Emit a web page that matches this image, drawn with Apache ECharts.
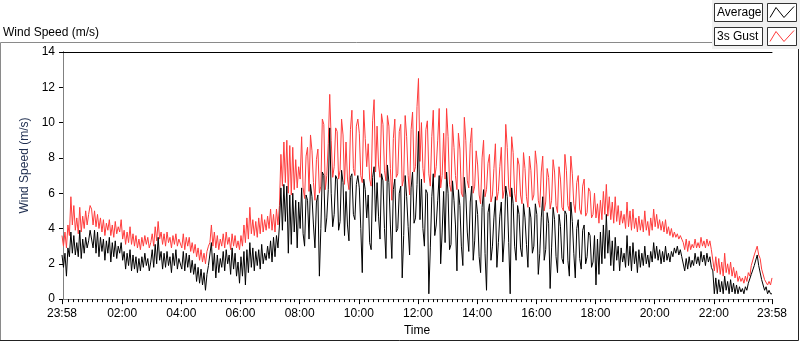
<!DOCTYPE html>
<html>
<head>
<meta charset="utf-8">
<script src="https://cdn.jsdelivr.net/npm/echarts@6/dist/echarts.min.js"></script>
<style>
  html, body { margin: 0; padding: 0; background: #fff; }
  #chart { width: 800px; height: 342px; }
</style>
</head>
<body>
<div id="chart"></div>
<script>
// wind speed log, one sample every 3 minutes starting 23:58 (one row = one hour)
const startMinute = -2
const stepMinutes = 3

const gust = [
  3.6, 3.0, 3.8, 2.9, 4.2, 3.6, 5.8, 4.2, 5.3, 3.9, 4.6, 3.7, 5.2, 3.8, 4.7, 4.0, 5.0, 4.2, 4.8, 5.3,
  5.1, 4.2, 5.0, 4.1, 4.8, 4.0, 4.6, 3.8, 4.5, 3.6, 4.3, 3.9, 4.5, 3.6, 4.2, 3.5, 4.4, 3.7, 4.1, 3.8,
  4.5, 3.4, 3.9, 3.1, 3.8, 3.2, 4.1, 3.1, 3.7, 3.0, 3.6, 2.9, 3.4, 2.8, 3.5, 3.0, 3.6, 3.1, 3.5, 2.9,
  3.2, 3.7, 3.0, 4.1, 3.3, 4.4, 3.4, 3.8, 3.1, 3.7, 3.0, 3.8, 3.2, 3.5, 2.9, 3.6, 3.1, 3.7, 3.0, 3.4,
  3.4, 2.9, 3.7, 2.8, 3.5, 3.0, 3.5, 2.7, 3.2, 2.6, 3.1, 2.4, 2.9, 2.2, 2.8, 2.1, 2.6, 2.0, 2.7, 3.0,
  3.2, 4.2, 3.0, 3.8, 2.9, 3.6, 2.8, 3.4, 3.0, 3.7, 2.9, 3.8, 3.1, 3.5, 2.8, 3.7, 3.0, 3.6, 2.9, 3.3,
  2.8, 3.6, 3.0, 4.2, 3.2, 4.6, 3.4, 5.2, 3.7, 4.5, 3.6, 4.4, 3.5, 4.6, 3.7, 4.8, 3.8, 4.5, 3.9, 4.7,
  4.0, 5.1, 3.9, 4.8, 3.8, 5.1, 4.2, 5.3, 8.2, 6.4, 8.9, 6.6, 9.0, 6.0, 8.7, 5.9, 8.6, 6.2, 7.9, 6.3,
  7.5, 6.8, 9.2, 6.3, 5.7, 8.1, 8.6, 6.1, 9.3, 8.4, 6.6, 5.6, 7.9, 8.5, 6.0, 6.4, 10.2, 9.9, 6.2, 7.0,
  8.8, 11.6, 9.0, 6.9, 7.5, 9.7, 9.5, 6.8, 7.3, 10.2, 9.3, 6.5, 8.9, 6.8, 6.2, 9.6, 10.7, 7.4, 7.0, 9.8,
  10.2, 9.4, 7.0, 6.6, 10.7, 9.1, 7.5, 8.8, 6.8, 6.4, 10.1, 11.3, 7.2, 9.8, 7.6, 6.9, 10.5, 9.9, 7.3, 6.7,
  10.4, 9.8, 7.4, 5.6, 9.1, 10.2, 6.9, 7.1, 9.5, 9.9, 6.4, 6.8, 10.4, 9.2, 7.0, 5.9, 9.6, 10.6, 7.2, 7.5,
  10.9, 12.5, 7.8, 10.0, 7.4, 6.6, 9.6, 10.1, 7.1, 6.4, 9.2, 10.7, 6.9, 7.5, 9.0, 10.8, 6.3, 7.0, 9.4, 6.8,
  10.8, 9.2, 6.5, 6.1, 9.9, 8.6, 7.0, 6.2, 9.4, 8.5, 6.0, 5.8, 10.3, 9.0, 6.7, 6.3, 8.8, 9.7, 6.0, 6.4,
  8.4, 7.6, 5.9, 5.4, 8.0, 9.0, 5.8, 6.2, 7.7, 8.2, 5.5, 5.9, 7.4, 8.8, 5.6, 6.1, 7.5, 8.6, 5.7, 6.2,
  9.9, 8.6, 6.3, 5.8, 9.2, 8.3, 6.0, 5.5, 8.0, 7.6, 5.9, 5.4, 8.3, 7.4, 5.8, 5.2, 8.1, 7.3, 5.6, 5.9,
  8.4, 7.6, 5.6, 5.2, 7.2, 8.1, 5.0, 5.5, 7.4, 6.9, 5.1, 5.6, 7.9, 7.2, 5.3, 4.9, 7.5, 6.8, 5.2, 5.0,
  8.2, 7.3, 5.3, 5.0, 8.1, 7.1, 5.4, 4.9, 6.6, 7.0, 5.1, 4.8, 6.4, 6.8, 4.7, 4.9, 6.3, 6.1, 4.6, 4.8,
  6.0, 4.6, 5.4, 4.3, 5.6, 4.5, 6.1, 4.8, 6.5, 4.7, 5.8, 4.5, 5.5, 4.3, 5.8, 4.4, 5.3, 4.2, 5.0, 4.3,
  4.8, 4.0, 5.5, 4.1, 5.0, 3.9, 5.1, 4.0, 4.6, 3.8, 4.7, 3.9, 4.5, 3.8, 5.0, 3.9, 4.4, 3.6, 4.6, 3.9,
  5.1, 4.1, 4.8, 4.0, 4.5, 3.9, 4.4, 3.8, 4.5, 3.7, 4.1, 3.6, 4.0, 3.5, 3.8, 3.5, 3.7, 3.4, 3.6, 3.4,
  3.2, 2.8, 3.4, 2.7, 3.3, 2.8, 3.1, 2.9, 3.4, 2.9, 3.2, 2.9, 3.5, 3.0, 3.3, 2.9, 3.4, 3.0, 3.3, 2.8,
  2.8, 1.6, 2.4, 1.5, 2.3, 1.4, 2.1, 1.3, 2.6, 1.5, 2.0, 1.4, 2.1, 1.3, 1.8, 1.2, 1.6, 1.0, 1.3, 1.0,
  1.2, 0.9, 1.3, 1.0, 1.5, 1.3, 1.9, 1.8, 2.5, 2.4, 3.0, 2.5, 2.3, 1.7, 1.6, 1.1, 1.2, 0.8, 1.0, 0.8, 1.2
]

const average = [
  2.5, 1.8, 2.6, 1.3, 2.9, 2.4, 3.8, 2.6, 3.6, 2.5, 3.2, 2.4, 3.9, 2.3, 3.4, 2.6, 3.5, 2.9, 3.3, 3.9,
  4.0, 2.9, 3.9, 2.6, 3.8, 2.4, 3.5, 2.7, 3.4, 2.2, 3.3, 2.6, 3.5, 2.1, 3.2, 2.4, 3.3, 2.3, 3.0, 2.6,
  3.2, 2.2, 2.7, 1.7, 2.6, 1.9, 2.8, 1.6, 2.5, 1.7, 2.4, 1.5, 2.3, 1.6, 2.4, 1.8, 2.6, 1.9, 2.3, 1.6,
  2.1, 2.8, 1.8, 3.1, 2.0, 3.5, 2.2, 2.7, 1.7, 2.6, 1.8, 2.7, 1.9, 2.4, 1.5, 2.6, 1.9, 2.8, 1.7, 2.3,
  2.3, 1.7, 2.7, 1.6, 2.6, 1.8, 2.5, 1.5, 2.2, 1.4, 2.0, 1.0, 1.8, 0.9, 1.7, 0.8, 1.5, 0.5, 1.4, 1.9,
  2.0, 3.2, 1.6, 2.6, 1.2, 2.5, 1.5, 2.3, 1.8, 2.7, 1.6, 2.8, 2.0, 2.5, 1.4, 2.9, 1.7, 2.6, 1.3, 2.1,
  0.9, 2.4, 1.3, 2.7, 0.8, 2.8, 1.5, 3.2, 1.8, 2.9, 1.6, 2.7, 1.9, 2.8, 1.7, 3.1, 2.0, 2.6, 2.2, 3.0,
  2.3, 3.3, 2.1, 3.5, 2.4, 3.6, 2.9, 4.2, 6.3, 3.9, 6.5, 4.4, 6.4, 2.6, 5.9, 3.1, 6.0, 3.8, 5.6, 2.9,
  5.5, 4.0, 6.3, 3.7, 3.0, 5.9, 5.6, 3.4, 6.5, 5.8, 4.2, 2.9, 5.5, 5.9, 1.3, 4.0, 7.2, 7.0, 3.8, 4.6,
  6.2, 9.7, 6.0, 4.1, 4.8, 7.0, 6.8, 3.9, 4.4, 7.3, 6.6, 3.6, 6.1, 4.2, 3.3, 6.9, 7.1, 4.8, 4.5, 6.5,
  7.0, 6.3, 4.0, 1.5, 6.8, 6.2, 4.6, 5.9, 3.2, 2.8, 6.9, 7.5, 4.4, 6.6, 4.7, 3.4, 7.1, 6.7, 4.0, 2.3,
  7.6, 6.6, 4.2, 2.3, 6.2, 6.8, 3.8, 4.0, 6.0, 6.4, 1.2, 3.6, 7.0, 5.8, 4.1, 2.5, 6.3, 7.2, 4.3, 4.6,
  6.5, 9.5, 4.5, 6.8, 4.0, 3.0, 6.2, 6.0, 0.3, 2.9, 5.8, 7.1, 3.6, 4.2, 5.6, 7.0, 2.0, 3.8, 6.1, 3.2,
  7.2, 6.0, 2.8, 3.1, 6.7, 5.6, 4.2, 1.6, 6.2, 5.3, 3.0, 1.9, 6.9, 5.9, 3.8, 2.7, 5.5, 6.4, 2.2, 3.3,
  5.6, 4.8, 2.4, 1.5, 5.2, 6.2, 2.6, 0.5, 4.9, 5.4, 2.2, 3.0, 4.6, 5.8, 1.8, 3.2, 4.7, 5.5, 2.1, 3.4,
  6.4, 5.8, 3.2, 0.3, 6.3, 5.4, 3.0, 2.2, 5.3, 4.8, 2.9, 2.4, 5.4, 4.6, 3.1, 1.8, 5.2, 4.6, 2.6, 3.0,
  5.4, 4.8, 1.4, 2.6, 4.6, 5.8, 2.2, 2.8, 4.9, 4.3, 0.6, 2.9, 5.2, 4.5, 2.4, 1.5, 4.8, 4.1, 2.3, 2.0,
  5.0, 4.8, 2.2, 1.3, 5.5, 4.4, 2.6, 1.2, 4.0, 4.5, 2.3, 1.7, 3.9, 4.2, 2.0, 2.4, 3.8, 3.6, 1.8, 2.1,
  3.6, 0.8, 3.4, 1.4, 3.8, 2.0, 4.2, 2.3, 4.8, 2.6, 3.9, 1.9, 3.3, 1.6, 3.5, 2.2, 3.0, 1.6, 2.9, 2.1,
  2.6, 1.8, 3.6, 1.9, 3.0, 1.6, 3.2, 2.0, 2.7, 1.5, 2.8, 1.8, 2.6, 1.9, 3.0, 2.0, 2.5, 1.8, 2.7, 2.1,
  3.2, 2.3, 3.0, 2.2, 2.8, 2.0, 2.7, 2.1, 3.0, 2.2, 2.6, 2.1, 2.7, 2.4, 2.9, 2.6, 3.0, 2.5, 2.8, 2.4,
  2.4, 1.6, 2.3, 1.7, 2.4, 1.8, 2.2, 1.9, 2.6, 2.0, 2.4, 1.9, 2.7, 2.1, 2.5, 1.9, 2.6, 2.1, 2.4, 1.8,
  1.6, 0.3, 1.2, 0.3, 1.1, 0.4, 1.0, 0.3, 1.3, 0.5, 1.0, 0.3, 1.1, 0.4, 0.9, 0.3, 0.8, 0.3, 0.7, 0.4,
  0.6, 0.3, 0.7, 0.5, 0.9, 0.8, 1.4, 1.3, 1.9, 2.0, 2.5, 1.9, 1.8, 1.1, 1.0, 0.5, 0.7, 0.3, 0.5, 0.3, 0.3
]

// x axis: minutes after midnight, labelled ticks
const tickMinutes = [-2, 120, 240, 360, 480, 600, 720, 840, 960, 1080, 1200, 1320, 1438]
const tickLabels = ['23:58', '02:00', '04:00', '06:00', '08:00', '10:00', '12:00',
  '14:00', '16:00', '18:00', '20:00', '22:00', '23:58']
const minorTicks = []
for (let m = 10; m < 1438; m += 10) if (m % 120) minorTicks.push(m)

const seriesNames = ['Average', '3s Gust']
const seriesColors = ['#000000', '#ff3b3b']

const toPairs = (arr) => arr.map((v, i) => [startMinute + i * stepMinutes, v])

const FONT = 'Liberation Sans'
const xMin = -2, xMax = 1438

// LabVIEW-style legend: text box + icon box per series
function legendGraphic() {
  const els = [{ type: 'rect', z: 1, shape: { x: 712, y: 0, width: 88, height: 49 }, style: { fill: '#f0f0f0' } }]
  seriesNames.forEach((name, i) => {
    const y = 3.5 + i * 24
    els.push(
      { type: 'rect', z: 2, shape: { x: 714.5, y, width: 48, height: 18 }, style: { fill: '#fff', stroke: '#333', lineWidth: 1 } },
      { type: 'text', z: 3, x: 717, y: y + 9.5, style: { text: name, font: `12px "${FONT}"`, fill: '#000', verticalAlign: 'middle' } },
      { type: 'rect', z: 2, shape: { x: 767.5, y, width: 29, height: 18 }, style: { fill: '#fff', stroke: '#333', lineWidth: 1 } },
      { type: 'polyline', z: 3, shape: { points: [[770, y + 14], [776, y + 4], [784, y + 14], [794, y + 3]] },
        style: { stroke: seriesColors[i], lineWidth: 1, fill: null } },
    )
  })
  return els
}

const chart = echarts.init(document.getElementById('chart'), null, { renderer: 'canvas' })

chart.setOption({
  animation: false,
  textStyle: { fontFamily: FONT },
  title: {
    text: 'Wind Speed (m/s)',
    left: 3, top: 27, padding: 0,
    textStyle: { fontSize: 12, fontWeight: 'normal', color: '#000', fontFamily: FONT },
  },
  graphic: [
    ...legendGraphic(),
    { type: 'polyline', z: 1, shape: { points: [[0.5, 341], [0.5, 42.5], [712, 42.5]] }, style: { stroke: '#8a8a8a', lineWidth: 1, fill: null } },
    { type: 'polyline', z: 1, shape: { points: [[798.5, 49], [798.5, 340.5], [0, 340.5]] }, style: { stroke: '#222', lineWidth: 1, fill: null } },
  ],
  grid: { left: 62, right: 28, top: 52, bottom: 40 },
  xAxis: [
    {
      type: 'value', min: xMin, max: xMax, position: 'bottom',
      axisLine: { lineStyle: { color: '#808080', width: 1 } },
      axisTick: { show: true, length: 3, customValues: minorTicks, lineStyle: { color: '#000' } },
      axisLabel: { show: false },
      splitLine: { show: false },
    },
    {
      type: 'value', min: xMin, max: xMax, position: 'bottom',
      axisLine: { show: false },
      axisTick: { show: true, length: 5, customValues: tickMinutes, lineStyle: { color: '#000', width: 1 } },
      axisLabel: {
        customValues: tickMinutes,
        formatter: (v) => tickLabels[tickMinutes.indexOf(v)],
        color: '#000', fontSize: 12, margin: 9, fontFamily: FONT,
        showMinLabel: true, showMaxLabel: true,
      },
      splitLine: { show: false },
      name: 'Time', nameLocation: 'middle', nameGap: 25,
      nameTextStyle: { color: '#000', fontSize: 12, fontFamily: FONT },
    },
    {
      type: 'value', min: xMin, max: xMax, position: 'top',
      axisLine: { lineStyle: { color: '#000', width: 1 } },
      axisTick: { show: false }, axisLabel: { show: false }, splitLine: { show: false },
    },
  ],
  yAxis: [
    {
      type: 'value', min: 0, max: 14, interval: 2,
      axisLine: { show: true, lineStyle: { color: '#000' } },
      axisTick: { show: true, length: 4, lineStyle: { color: '#000' } },
      axisLabel: { color: '#000', fontSize: 12, margin: 7, fontFamily: FONT },
      splitLine: { show: false },
      name: 'Wind Speed (m/s)', nameLocation: 'middle', nameGap: 24,
      nameTextStyle: { color: '#1e2d4f', fontSize: 12, fontFamily: FONT, padding: [0, 0, 0, 20] },
    },
    {
      type: 'value', min: 0, max: 14, position: 'right',
      axisLine: { show: true, lineStyle: { color: '#808080' } },
      axisTick: { show: false }, axisLabel: { show: false }, splitLine: { show: false },
    },
  ],
  series: [
    {
      name: seriesNames[1], type: 'line', data: toPairs(gust),
      showSymbol: false, symbol: 'none',
      lineStyle: { color: seriesColors[1], width: 1 },
      itemStyle: { color: seriesColors[1] },
    },
    {
      name: seriesNames[0], type: 'line', data: toPairs(average),
      showSymbol: false, symbol: 'none',
      lineStyle: { color: seriesColors[0], width: 1 },
      itemStyle: { color: seriesColors[0] },
    },
  ],
})
</script>
</body>
</html>
